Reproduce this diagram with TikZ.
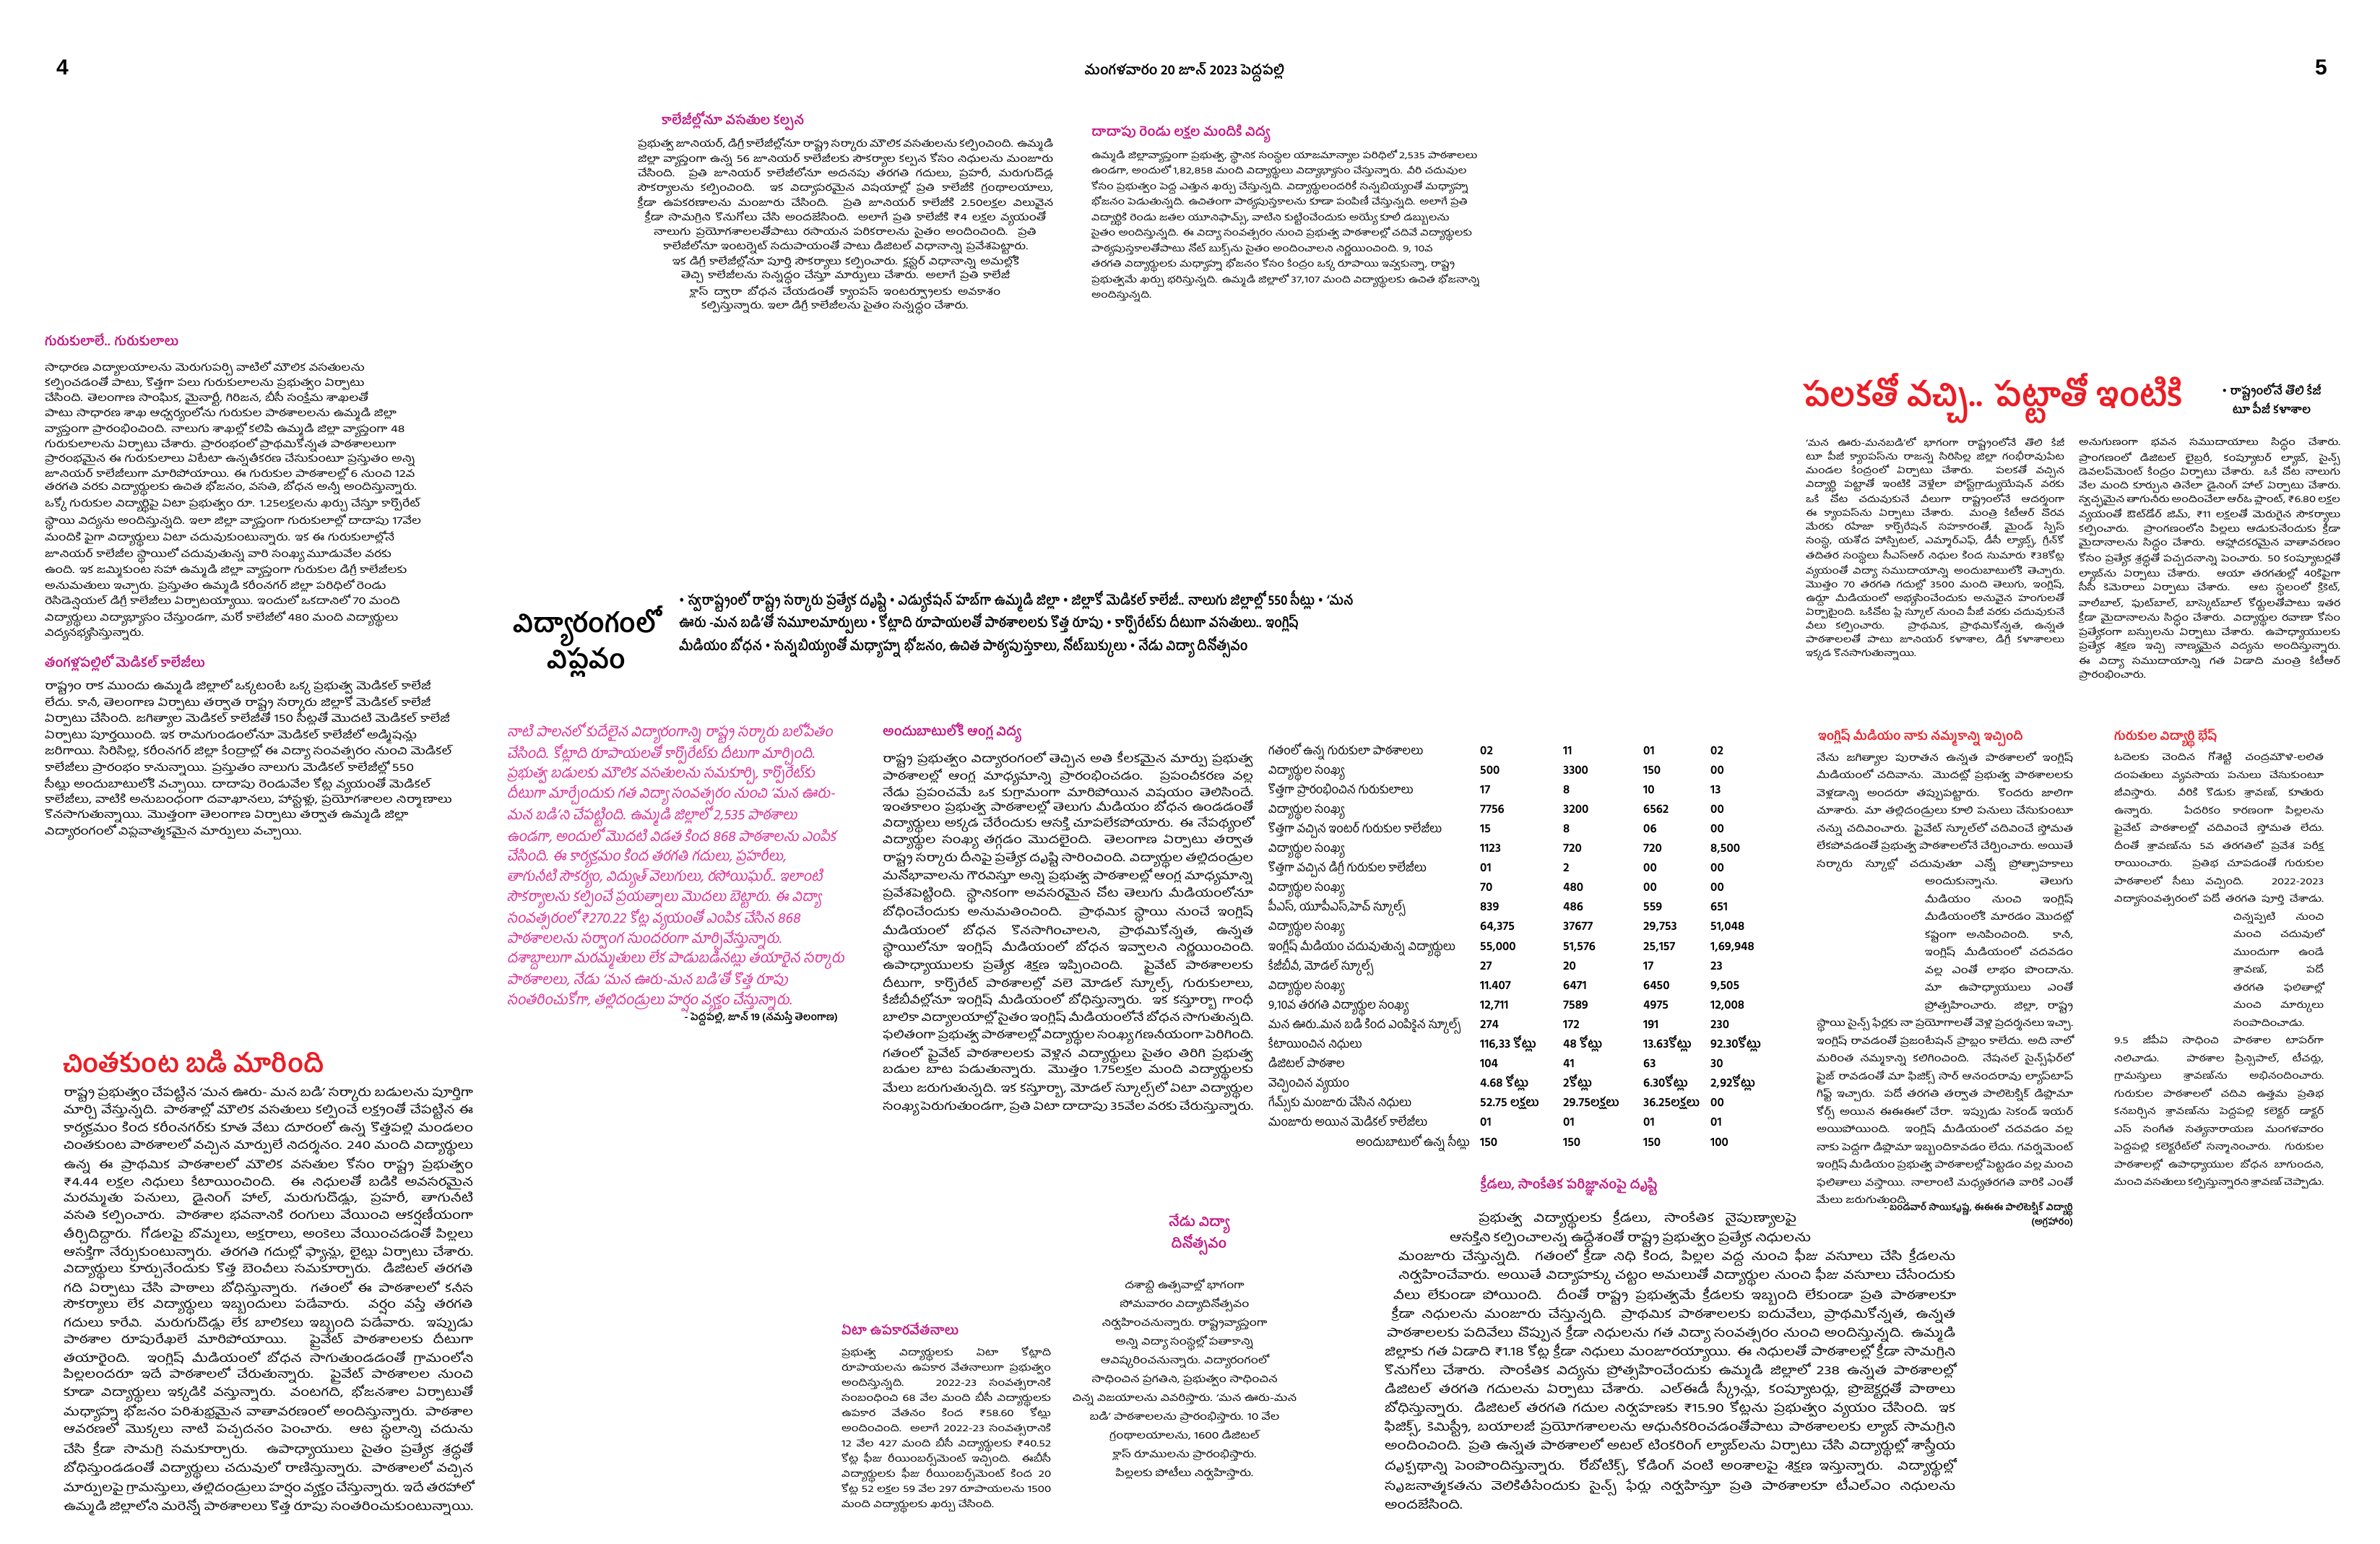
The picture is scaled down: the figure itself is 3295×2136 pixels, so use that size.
\documentclass[tikz,border=0pt]{standalone}
\usepackage{fontspec}
\usepackage{tikz}
\newfontfamily\tel[Script=Telugu,FakeStretch=1.3]{Hind Guntur}
\newfontfamily\telh[Script=Telugu]{Hind Guntur}
\newfontfamily\telc[Script=Telugu,FakeStretch=0.9]{Hind Guntur}
\newfontfamily\telsl[Script=Telugu,FakeSlant=0.18]{Hind Guntur}
\newfontfamily\numsans{Liberation Sans}
\newcommand{\fs}[2]{\fontsize{#1}{#2}\selectfont}
\newcommand{\shaped}[3]{\vbox{\hsize=#1\parshape #2\relax #3\par}}
\definecolor{headpink}{RGB}{196,20,132}
\definecolor{textpink}{RGB}{224,40,150}
\definecolor{headred}{RGB}{236,28,36}
\setlength{\parindent}{0pt}
\tolerance=9999 \emergencystretch=20pt \hbadness=10000

\tikzstyle{body text}=[anchor=north west, inner sep=0pt, align=justify, text=black]
\tikzstyle{shaped text}=[anchor=north west, inner sep=0pt, text=black]
\tikzstyle{sub head}=[anchor=base west, inner sep=0pt, text=headpink, font={\telh\bfseries\fs{18}{21}}]
\tikzstyle{red head}=[anchor=base west, inner sep=0pt, text=headred, font={\telh\bfseries\fs{17}{21}}]
\tikzstyle{big head}=[anchor=base west, inner sep=0pt, text=headred, font={\telh\bfseries\fs{46}{50}}]
\tikzstyle{mid head}=[anchor=base west, inner sep=0pt, text=headred, font={\telh\bfseries\fs{36}{40}}]
\tikzstyle{table label}=[anchor=base west, inner sep=0pt, font={\telh\fs{16.5}{18}}]
\tikzstyle{table num}=[anchor=base west, inner sep=0pt, font={\telh\bfseries\fs{17}{18}}]

\begin{document}
\begin{tikzpicture}[x=1pt,y=-1pt]
    \useasboundingbox (0,0) rectangle (3295,2136);
    \fill[white] (0,0) rectangle (3295,2136);

    % Folio
    \draw (78,103) node[anchor=base west, inner sep=0pt, font={\numsans\bfseries\fs{30}{32}}] (pgleft) {4};
    \draw (3222,103) node[anchor=base east, inner sep=0pt, font={\numsans\bfseries\fs{30}{32}}] (pgright) {5};
    \draw (1640,103) node[anchor=base, inner sep=0pt, font={\telh\bfseries\fs{19}{22}}] (dateline) {మంగళవారం 20 జూన్ 2023 పెద్దపల్లి};

    % Top stories
    \draw (916,172) node[sub head] (hcollege) {కాలేజీల్లోనూ వసతుల కల్పన};
    \draw (883,190) node[shaped text, font={\tel\fs{13.5}{19.5}}] (bcollege) {\shaped{583pt}{14 0pt 575pt 0pt 575pt 0pt 575pt 0pt 575pt 0pt 575pt 10pt 555pt 22pt 530pt 35pt 505pt 48pt 480pt 60pt 455pt 72pt 430pt 88pt 400pt 103pt 370pt 123pt 330pt}{ప్రభుత్వ జూనియర్, డిగ్రీ కాలేజీల్లోనూ రాష్ట్ర సర్కారు మౌలిక వసతులను కల్పించింది. ఉమ్మడి జిల్లా వ్యాప్తంగా ఉన్న 56 జూనియర్ కాలేజీలకు సౌకర్యాల కల్పన కోసం నిధులను మంజూరు చేసింది. ప్రతి జూనియర్ కాలేజీలోనూ అదనపు తరగతి గదులు, ప్రహరీ, మరుగుదొడ్ల సౌకర్యాలను కల్పించింది. ఇక విద్యాపరమైన విషయాల్లో ప్రతి కాలేజీకి గ్రంథాలయాలు, క్రీడా ఉపకరణాలను మంజూరు చేసింది. ప్రతి జూనియర్ కాలేజీకి 2.50లక్షల విలువైన క్రీడా సామగ్రిని కొనుగోలు చేసి అందజేసింది. అలాగే ప్రతి కాలేజీకి ₹4 లక్షల వ్యయంతో నాలుగు ప్రయోగశాలలతోపాటు రసాయన పరికరాలను సైతం అందించింది. ప్రతి కాలేజీలోనూ ఇంటర్నెట్ సదుపాయంతో పాటు డిజిటల్ విధానాన్ని ప్రవేశపెట్టారు. ఇక డిగ్రీ కాలేజీల్లోనూ పూర్తి సౌకర్యాలు కల్పించారు. క్లస్టర్ విధానాన్ని అమల్లోకి తెచ్చి కాలేజీలను సన్నద్ధం చేస్తూ మార్పులు చేశారు. అలాగే ప్రతి కాలేజీ క్లాస్ ద్వారా బోధన చేయడంతో క్యాంపస్ ఇంటర్వ్యూలకు అవకాశం కల్పిస్తున్నారు. ఇలా డిగ్రీ కాలేజీలను సైతం సన్నద్ధం చేశారు.}};

    \draw (1511,188) node[sub head] (hlakh) {దాదాపు రెండు లక్షల మందికి విద్య};
    \draw (1511,207) node[body text, align=left, text width=550pt, font={\tel\fs{12.5}{21.5}}] (blakh) {ఉమ్మడి జిల్లావ్యాప్తంగా ప్రభుత్వ, స్థానిక సంస్థల యాజమాన్యాల పరిధిలో 2,535 పాఠశాలలు ఉండగా, అందులో 1,82,858 మంది విద్యార్థులు విద్యాభ్యాసం చేస్తున్నారు. వీరి చదువుల కోసం ప్రభుత్వం పెద్ద ఎత్తున ఖర్చు చేస్తున్నది. విద్యార్థులందరికీ సన్నబియ్యంతో మధ్యాహ్న భోజనం పెడుతున్నది. ఉచితంగా పాఠ్యపుస్తకాలను కూడా పంపిణీ చేస్తున్నది. అలాగే ప్రతి విద్యార్థికి రెండు జతల యూనిఫామ్స్, వాటిని కుట్టించేందుకు అయ్యే కూలీ డబ్బులను సైతం అందిస్తున్నది. ఈ విద్యా సంవత్సరం నుంచి ప్రభుత్వ పాఠశాలల్లో చదివే విద్యార్థులకు పాఠ్యపుస్తకాలతోపాటు నోట్ బుక్స్‌ను సైతం అందించాలని నిర్ణయించింది. 9, 10వ తరగతి విద్యార్థులకు మధ్యాహ్న భోజనం కోసం కేంద్రం ఒక్క రూపాయి ఇవ్వకున్నా, రాష్ట్ర ప్రభుత్వమే ఖర్చు భరిస్తున్నది. ఉమ్మడి జిల్లాలో 37,107 మంది విద్యార్థులకు ఉచిత భోజనాన్ని అందిస్తున్నది.};

    % Left column
    \draw (62,478) node[sub head] (hgurukul) {గురుకులాలే.. గురుకులాలు};
    \draw (62,500) node[body text, align=left, text width=525pt, font={\tel\fs{13.9}{18.3}}] (bgurukul) {సాధారణ విద్యాలయాలను మెరుగుపర్చి వాటిలో మౌలిక వసతులను కల్పించడంతో పాటు, కొత్తగా పలు గురుకులాలను ప్రభుత్వం ఏర్పాటు చేసింది. తెలంగాణ సాంఘిక, మైనార్టీ, గిరిజన, బీసీ సంక్షేమ శాఖలతో పాటు సాధారణ శాఖ ఆధ్వర్యంలోను గురుకుల పాఠశాలలను ఉమ్మడి జిల్లా వ్యాప్తంగా ప్రారంభించింది. నాలుగు శాఖల్లో కలిపి ఉమ్మడి జిల్లా వ్యాప్తంగా 48 గురుకులాలను ఏర్పాటు చేశారు. ప్రారంభంలో ప్రాథమికోన్నత పాఠశాలలుగా ప్రారంభమైన ఈ గురుకులాలు ఏటేటా ఉన్నతీకరణ చేసుకుంటూ ప్రస్తుతం అన్ని జూనియర్ కాలేజీలుగా మారిపోయాయి. ఈ గురుకుల పాఠశాలల్లో 6 నుంచి 12వ తరగతి వరకు విద్యార్థులకు ఉచిత భోజనం, వసతి, బోధన అన్నీ అందిస్తున్నారు. ఒక్కో గురుకుల విద్యార్థిపై ఏటా ప్రభుత్వం రూ. 1.25లక్షలను ఖర్చు చేస్తూ కార్పొరేట్ స్థాయి విద్యను అందిస్తున్నది. ఇలా జిల్లా వ్యాప్తంగా గురుకులాల్లో దాదాపు 17వేల మందికి పైగా విద్యార్థులు ఏటా చదువుకుంటున్నారు. ఇక ఈ గురుకులాల్లోనే జూనియర్ కాలేజీల స్థాయిలో చదువుతున్న వారి సంఖ్య మూడువేల వరకు ఉంది. ఇక జమ్మికుంట సహా ఉమ్మడి జిల్లా వ్యాప్తంగా గురుకుల డిగ్రీ కాలేజీలకు అనుమతులు ఇచ్చారు. ప్రస్తుతం ఉమ్మడి కరీంనగర్ జిల్లా పరిధిలో రెండు రెసిడెన్షియల్ డిగ్రీ కాలేజీలు ఏర్పాటయ్యాయి. ఇందులో ఒకదానిలో 70 మంది విద్యార్థులు విద్యాభ్యాసం చేస్తుండగా, మరో కాలేజీలో 480 మంది విద్యార్థులు విద్యనభ్యసిస్తున్నారు.};

    \draw (62,923) node[sub head] (hmedical) {తంగళ్లపల్లిలో మెడికల్ కాలేజీలు};
    \draw (62,940) node[body text, align=left, text width=580pt, font={\tel\fs{14.8}{18.3}}] (bmedical) {రాష్ట్రం రాక ముందు ఉమ్మడి జిల్లాలో ఒక్కటంటే ఒక్క ప్రభుత్వ మెడికల్ కాలేజీ లేదు. కానీ, తెలంగాణ ఏర్పాటు తర్వాత రాష్ట్ర సర్కారు జిల్లాకో మెడికల్ కాలేజీ ఏర్పాటు చేసింది. జగిత్యాల మెడికల్ కాలేజీతో 150 సీట్లతో మొదటి మెడికల్ కాలేజీ ఏర్పాటు పూర్తయింది. ఇక రామగుండంలోనూ మెడికల్ కాలేజీలో అడ్మిషన్లు జరిగాయి. సిరిసిల్ల, కరీంనగర్ జిల్లా కేంద్రాల్లో ఈ విద్యా సంవత్సరం నుంచి మెడికల్ కాలేజీలు ప్రారంభం కానున్నాయి. ప్రస్తుతం నాలుగు మెడికల్ కాలేజీల్లో 550 సీట్లు అందుబాటులోకి వచ్చాయి. దాదాపు రెండువేల కోట్ల వ్యయంతో మెడికల్ కాలేజీలు, వాటికి అనుబంధంగా దవాఖానలు, హాస్టళ్లు, ప్రయోగశాలల నిర్మాణాలు కొనసాగుతున్నాయి. మొత్తంగా తెలంగాణ ఏర్పాటు తర్వాత ఉమ్మడి జిల్లా విద్యారంగంలో విప్లవాత్మకమైన మార్పులు వచ్చాయి.};

    % Main headline
    \draw (812,925) node[anchor=base, inner sep=0pt, align=center, font={\telh\bfseries\fs{37}{48}}] (mainhead) {విద్యారంగంలో\\విప్లవం};
    \draw (940,900) node[anchor=base west, inner sep=0pt, align=left, font={\telc\bfseries\fs{19.3}{31.5}}] (bullets) {• స్వరాష్ట్రంలో రాష్ట్ర సర్కారు ప్రత్యేక దృష్టి • ఎడ్యుకేషన్ హబ్‌గా ఉమ్మడి జిల్లా • జిల్లాకో మెడికల్ కాలేజీ.. నాలుగు జిల్లాల్లో 550 సీట్లు • ‘మన\\ఊరు -మన బడి’తో సమూలమార్పులు • కోట్లాది రూపాయలతో పాఠశాలలకు కొత్త రూపు • కార్పొరేట్‌కు దీటుగా వసతులు.. ఇంగ్లిష్\\మీడియం బోధన • సన్నబియ్యంతో మధ్యాహ్న భోజనం, ఉచిత పాఠ్యపుస్తకాలు, నోట్‌బుక్కులు • నేడు విద్యా దినోత్సవం};

    % Intro in pink
    \draw (702,1000) node[body text, align=left, text=textpink, font={\telsl\fs{19.6}{27.8}}] (intro) {నాటి పాలనలో కుదేలైన విద్యారంగాన్ని రాష్ట్ర సర్కారు బలోపేతం\\చేసింది. కోట్లాది రూపాయలతో కార్పొరేట్‌కు దీటుగా మార్చింది.\\ప్రభుత్వ బడులకు మౌలిక వసతులను సమకూర్చి, కార్పొరేట్‌కు\\దీటుగా మార్చేందుకు గత విద్యా సంవత్సరం నుంచి ‘మన ఊరు-\\మన బడి’ని చేపట్టింది. ఉమ్మడి జిల్లాలో 2,535 పాఠశాలు\\ఉండగా, అందులో మొదటి విడత కింద 868 పాఠశాలను ఎంపిక\\చేసింది. ఈ కార్యక్రమం కింద తరగతి గదులు, ప్రహరీలు,\\తాగునీటి సౌకర్యం, విద్యుత్ వెలుగులు, రసోయిఘర్.. ఇలాంటి\\సౌకర్యాలను కల్పించే ప్రయత్నాలు మొదలు బెట్టారు. ఈ విద్యా\\సంవత్సరంలో ₹270.22 కోట్ల వ్యయంతో ఎంపిక చేసిన 868\\పాఠశాలలను సర్వాంగ సుందరంగా మార్చివేస్తున్నారు.\\దశాబ్దాలుగా మరమ్మతులు లేక పాడుబడినట్లు తయారైన సర్కారు\\పాఠశాలలు, నేడు ‘మన ఊరు-మన బడి’తో కొత్త రూపు\\సంతరించుకోగా, తల్లిదండ్రులు హర్షం వ్యక్తం చేస్తున్నారు.};
    \draw (1160,1412) node[anchor=base east, inner sep=0pt, font={\telh\bfseries\fs{14}{16}}] (byline) {- పెద్దపల్లి, జూన్ 19 (నమస్తే తెలంగాణ)};

    % English medium
    \draw (1222,1018) node[sub head] (henglish) {అందుబాటులోకి ఆంగ్ల విద్య};
    \draw (1222,1040) node[body text, text width=513pt, font={\tel\fs{15.5}{20}}] (benglish) {రాష్ట్ర ప్రభుత్వం విద్యారంగంలో తెచ్చిన అతి కీలకమైన మార్పు ప్రభుత్వ పాఠశాలల్లో ఆంగ్ల మాధ్యమాన్ని ప్రారంభించడం. ప్రపంచీకరణ వల్ల నేడు ప్రపంచమే ఒక కుగ్రామంగా మారిపోయిన విషయం తెలిసిందే. ఇంతకాలం ప్రభుత్వ పాఠశాలల్లో తెలుగు మీడియం బోధన ఉండడంతో విద్యార్థులు అక్కడ చేరేందుకు ఆసక్తి చూపలేకపోయారు. ఈ నేపథ్యంలో విద్యార్థుల సంఖ్య తగ్గడం మొదలైంది. తెలంగాణ ఏర్పాటు తర్వాత రాష్ట్ర సర్కారు దీనిపై ప్రత్యేక దృష్టి సారించింది. విద్యార్థుల తల్లిదండ్రుల మనోభావాలను గౌరవిస్తూ అన్ని ప్రభుత్వ పాఠశాలల్లో ఆంగ్ల మాధ్యమాన్ని ప్రవేశపెట్టింది. స్థానికంగా అవసరమైన చోట తెలుగు మీడియంలోనూ బోధించేందుకు అనుమతించింది. ప్రాథమిక స్థాయి నుంచే ఇంగ్లిష్ మీడియంలో బోధన కొనసాగించాలని, ప్రాథమికోన్నత, ఉన్నత స్థాయిలోనూ ఇంగ్లిష్ మీడియంలో బోధన ఇవ్వాలని నిర్ణయించింది. ఉపాధ్యాయులకు ప్రత్యేక శిక్షణ ఇప్పించింది. ప్రైవేట్ పాఠశాలలకు దీటుగా, కార్పొరేట్ పాఠశాలల్లో వలె మోడల్ స్కూల్స్, గురుకులాలు, కేజీబీవీల్లోనూ ఇంగ్లిష్ మీడియంలో బోధిస్తున్నారు. ఇక కస్తూర్బా గాంధీ బాలికా విద్యాలయాల్లో సైతం ఇంగ్లిష్ మీడియంలోనే బోధన సాగుతున్నది. ఫలితంగా ప్రభుత్వ పాఠశాలల్లో విద్యార్థుల సంఖ్య గణనీయంగా పెరిగింది. గతంలో ప్రైవేట్ పాఠశాలలకు వెళ్లిన విద్యార్థులు సైతం తిరిగి ప్రభుత్వ బడుల బాట పడుతున్నారు. మొత్తం 1.75లక్షల మంది విద్యార్థులకు మేలు జరుగుతున్నది. ఇక కస్తూర్బా, మోడల్ స్కూల్స్‌లో ఏటా విద్యార్థుల సంఖ్య పెరుగుతుండగా, ప్రతి ఏటా దాదాపు 35వేల వరకు చేరుస్తున్నారు.};

    % Figures
    \foreach \i/\lab/\a/\b/\c/\d in {1/{గతంలో ఉన్న గురుకులా పాఠశాలలు}/02/11/01/02,
      2/{విద్యార్థుల సంఖ్య}/500/3300/150/00,
      3/{కొత్తగా ప్రారంభించిన గురుకులాలు}/17/8/10/13,
      4/{విద్యార్థుల సంఖ్య}/7756/3200/6562/00,
      5/{కొత్తగా వచ్చిన ఇంటర్ గురుకుల కాలేజీలు}/15/8/06/00,
      6/{విద్యార్థుల సంఖ్య}/1123/720/720/{8,500},
      7/{కొత్తగా వచ్చిన డిగ్రీ గురుకుల కాలేజీలు}/01/2/00/00,
      8/{విద్యార్థుల సంఖ్య}/70/480/00/00,
      9/{పీఎస్, యూపీఎస్,హెచ్ స్కూల్స్}/839/486/559/651,
      10/{విద్యార్థుల సంఖ్య}/{64,375}/37677/{29,753}/{51,048},
      11/{ఇంగ్లీష్ మీడియం చదువుతున్న విద్యార్థులు}/{55,000}/{51,576}/{25,157}/{1,69,948},
      12/{కేజీబీవీ, మోడల్ స్కూల్స్}/27/20/17/23,
      13/{విద్యార్థుల సంఖ్య}/11.407/6471/6450/{9,505},
      14/{9,10వ తరగతి విద్యార్థుల సంఖ్య}/{12,711}/7589/4975/{12,008},
      15/{మన ఊరు..మన బడి కింద ఎంపికైన స్కూల్స్}/274/172/191/230,
      16/{కేటాయించిన నిధులు}/{116,33 కోట్లు}/{48 కోట్లు}/{13.63కోట్లు}/{92.30కోట్లు},
      17/{డిజిటల్ పాఠశాల}/104/41/63/30,
      18/{వెచ్చించిన వ్యయం}/{4.68 కోట్లు}/{2కోట్లు}/{6.30కోట్లు}/{2,92కోట్లు},
      19/{గేమ్స్‌కు మంజూరు చేసిన నిధులు}/{52.75 లక్షలు}/{29.75లక్షలు}/{36.25లక్షలు}/00,
      20/{మంజూరు అయిన మెడికల్ కాలేజీలు}/01/01/01/01}
    {
      \draw (1756,{1044+27.1*(\i-1)}) node[table label] (lab\i) {\lab};
      \draw (2049,{1044+27.1*(\i-1)}) node[table num] (ka\i) {\a};
      \draw (2164,{1044+27.1*(\i-1)}) node[table num] (kb\i) {\b};
      \draw (2275,{1044+27.1*(\i-1)}) node[table num] (kc\i) {\c};
      \draw (2368,{1044+27.1*(\i-1)}) node[table num] (kd\i) {\d};
    }
    \draw (2035,1586) node[table label, anchor=base east] (lab21) {అందుబాటులో ఉన్న సీట్లు};
    \draw (2049,1586) node[table num] (ka21) {150};
    \draw (2164,1586) node[table num] (kb21) {150};
    \draw (2275,1586) node[table num] (kc21) {150};
    \draw (2368,1586) node[table num] (kd21) {100};

    % Chintakunta
    \draw (87,1484) node[mid head] (hchinta) {చింతకుంట బడి మారింది};
    \draw (88,1503) node[body text, text width=567pt, font={\tel\fs{16}{21.7}}] (bchinta) {రాష్ట్ర ప్రభుత్వం చేపట్టిన ‘మన ఊరు- మన బడి’ సర్కారు బడులను పూర్తిగా మార్చి వేస్తున్నది. పాఠశాల్లో మౌలిక వసతులు కల్పించే లక్ష్యంతో చేపట్టిన ఈ కార్యక్రమం కింద కరీంనగర్‌కు కూత వేటు దూరంలో ఉన్న కొత్తపల్లి మండలం చింతకుంట పాఠశాలలో వచ్చిన మార్పులే నిదర్శనం. 240 మంది విద్యార్థులు ఉన్న ఈ ప్రాథమిక పాఠశాలలో మౌలిక వసతుల కోసం రాష్ట్ర ప్రభుత్వం ₹4.44 లక్షల నిధులు కేటాయించింది. ఈ నిధులతో బడికి అవసరమైన మరమ్మతు పనులు, డైనింగ్ హాల్, మరుగుదొడ్లు, ప్రహరీ, తాగునీటి వసతి కల్పించారు. పాఠశాల భవనానికి రంగులు వేయించి ఆకర్షణీయంగా తీర్చిదిద్దారు. గోడలపై బొమ్మలు, అక్షరాలు, అంకెలు వేయించడంతో పిల్లలు ఆసక్తిగా నేర్చుకుంటున్నారు. తరగతి గదుల్లో ఫ్యాన్లు, లైట్లు ఏర్పాటు చేశారు. విద్యార్థులు కూర్చునేందుకు కొత్త బెంచీలు సమకూర్చారు. డిజిటల్ తరగతి గది ఏర్పాటు చేసి పాఠాలు బోధిస్తున్నారు. గతంలో ఈ పాఠశాలలో కనీస సౌకర్యాలు లేక విద్యార్థులు ఇబ్బందులు పడేవారు. వర్షం వస్తే తరగతి గదులు కారేవి. మరుగుదొడ్లు లేక బాలికలు ఇబ్బంది పడేవారు. ఇప్పుడు పాఠశాల రూపురేఖలే మారిపోయాయి. ప్రైవేట్ పాఠశాలలకు దీటుగా తయారైంది. ఇంగ్లిష్ మీడియంలో బోధన సాగుతుండడంతో గ్రామంలోని పిల్లలందరూ ఇదే పాఠశాలలో చేరుతున్నారు. ప్రైవేట్ పాఠశాలల నుంచి కూడా విద్యార్థులు ఇక్కడికి వస్తున్నారు. వంటగది, భోజనశాల ఏర్పాటుతో మధ్యాహ్న భోజనం పరిశుభ్రమైన వాతావరణంలో అందిస్తున్నారు. పాఠశాల ఆవరణలో మొక్కలు నాటి పచ్చదనం పెంచారు. ఆట స్థలాన్ని చదును చేసి క్రీడా సామగ్రి సమకూర్చారు. ఉపాధ్యాయులు సైతం ప్రత్యేక శ్రద్ధతో బోధిస్తుండడంతో విద్యార్థులు చదువులో రాణిస్తున్నారు. పాఠశాలలో వచ్చిన మార్పులపై గ్రామస్తులు, తల్లిదండ్రులు హర్షం వ్యక్తం చేస్తున్నారు. ఇదే తరహాలో ఉమ్మడి జిల్లాలోని మరెన్నో పాఠశాలలు కొత్త రూపు సంతరించుకుంటున్నాయి.};

    % Scholarships
    \draw (1165,1847) node[sub head] (hscholar) {ఏటా ఉపకారవేతనాలు};
    \draw (1165,1864) node[body text, text width=290pt, font={\tel\fs{13}{21}}] (bscholar) {ప్రభుత్వ విద్యార్థులకు ఏటా కోట్లాది రూపాయలను ఉపకార వేతనాలుగా ప్రభుత్వం అందిస్తున్నది. 2022-23 సంవత్సరానికి సంబంధించి 68 వేల మంది బీసీ విద్యార్థులకు ఉపకార వేతనం కింద ₹58.60 కోట్లు అందించింది. అలాగే 2022-23 సంవత్సరానికి 12 వేల 427 మంది బీసీ విద్యార్థులకు ₹40.52 కోట్ల ఫీజు రీయింబర్స్‌మెంట్ ఇచ్చింది. ఈబీసీ విద్యార్థులకు ఫీజు రీయింబర్స్‌మెంట్ కింద 20 కోట్ల 52 లక్షల 59 వేల 297 రూపాయలను 1500 మంది విద్యార్థులకు ఖర్చు చేసింది.};

    % Education day
    \draw (1660,1727) node[anchor=base, inner sep=0pt, align=center, text=headpink, font={\telh\bfseries\fs{19}{23}}] (hday) {నేడు విద్యా\\దినోత్సవం};
    \draw (1640,1770) node[anchor=north, inner sep=0pt, align=center, font={\tel\fs{13.5}{26}}] (bday) {దశాబ్ది ఉత్సవాల్లో భాగంగా\\సోమవారం విద్యాదినోత్సవం\\నిర్వహించనున్నారు. రాష్ట్రవ్యాప్తంగా\\అన్ని విద్యా సంస్థల్లో పతాకాన్ని\\ఆవిష్కరించనున్నారు. విద్యారంగంలో\\సాధించిన ప్రగతిని, ప్రభుత్వం సాధించిన\\చిన్న విజయాలను వివరిస్తారు. ‘మన ఊరు-మన\\బడి’ పాఠశాలలను ప్రారంభిస్తారు. 10 వేల\\గ్రంథాలయాలను, 1600 డిజిటల్\\క్లాస్ రూములను ప్రారంభిస్తారు.\\పిల్లలకు పోటీలు నిర్వహిస్తారు.};

    % Sports and technology
    \draw (2050,1645) node[sub head] (hsports) {క్రీడలు, సాంకేతిక పరిజ్ఞానంపై దృష్టి};
    \draw (1917,1675) node[shaped text, font={\tel\fs{16.5}{26}}] (bsports) {\shaped{790pt}{8 130pt 440pt 90pt 500pt 19pt 771pt 19pt 771pt 12pt 778pt 10pt 780pt 3pt 787pt 0pt 790pt}{ప్రభుత్వ విద్యార్థులకు క్రీడలు, సాంకేతిక నైపుణ్యాలపై ఆసక్తిని కల్పించాలన్న ఉద్దేశంతో రాష్ట్ర ప్రభుత్వం ప్రత్యేక నిధులను మంజూరు చేస్తున్నది. గతంలో క్రీడా నిధి కింద, పిల్లల వద్ద నుంచి ఫీజు వసూలు చేసి క్రీడలను నిర్వహించేవారు. అయితే విద్యాహక్కు చట్టం అమలుతో విద్యార్థుల నుంచి ఫీజు వసూలు చేసేందుకు వీలు లేకుండా పోయింది. దీంతో రాష్ట్ర ప్రభుత్వమే క్రీడలకు ఇబ్బంది లేకుండా ప్రతి పాఠశాలకూ క్రీడా నిధులను మంజూరు చేస్తున్నది. ప్రాథమిక పాఠశాలలకు ఐదువేలు, ప్రాథమికోన్నత, ఉన్నత పాఠశాలలకు పదివేలు చొప్పున క్రీడా నిధులను గత విద్యా సంవత్సరం నుంచి అందిస్తున్నది. ఉమ్మడి జిల్లాకు గత ఏడాది ₹1.18 కోట్ల క్రీడా నిధులు మంజూరయ్యాయి. ఈ నిధులతో పాఠశాలల్లో క్రీడా సామగ్రిని కొనుగోలు చేశారు. సాంకేతిక విద్యను ప్రోత్సహించేందుకు ఉమ్మడి జిల్లాలో 238 ఉన్నత పాఠశాలల్లో డిజిటల్ తరగతి గదులను ఏర్పాటు చేశారు. ఎల్ఈడీ స్క్రీన్లు, కంప్యూటర్లు, ప్రొజెక్టర్లతో పాఠాలు బోధిస్తున్నారు. డిజిటల్ తరగతి గదుల నిర్వహణకు ₹15.90 కోట్లను ప్రభుత్వం వ్యయం చేసింది. ఇక ఫిజిక్స్, కెమిస్ట్రీ, బయాలజీ ప్రయోగశాలలను ఆధునీకరించడంతోపాటు పాఠశాలలకు ల్యాబ్ సామగ్రిని అందించింది. ప్రతి ఉన్నత పాఠశాలలో అటల్ టింకరింగ్ ల్యాబ్‌లను ఏర్పాటు చేసి విద్యార్థుల్లో శాస్త్రీయ దృక్పథాన్ని పెంపొందిస్తున్నారు. రోబోటిక్స్, కోడింగ్ వంటి అంశాలపై శిక్షణ ఇస్తున్నారు. విద్యార్థుల్లో సృజనాత్మకతను వెలికితీసేందుకు సైన్స్ ఫేర్లు నిర్వహిస్తూ ప్రతి పాఠశాలకూ టీఎల్ఎం నిధులను అందజేసింది.}};

    % KG to PG campus
    \draw (2496,562) node[big head] (hcampus) {పలకతో వచ్చి.. పట్టాతో ఇంటికి};
    \draw (3145,530) node[anchor=north, inner sep=0pt, align=center, font={\telh\bfseries\fs{16}{26}}] (campustag) {• రాష్ట్రంలోనే తొలి కేజీ\\టూ పీజీ కళాశాల};
    \draw (2500,605) node[body text, text width=358pt, font={\tel\fs{12.5}{19}}] (bcampusa) {‘మన ఊరు-మనబడి’లో భాగంగా రాష్ట్రంలోనే తొలి కేజీ టూ పీజీ క్యాంపస్‌ను రాజన్న సిరిసిల్ల జిల్లా గంభీరావుపేట మండల కేంద్రంలో ఏర్పాటు చేశారు. పలకతో వచ్చిన విద్యార్థి పట్టాతో ఇంటికి వెళ్లేలా పోస్ట్‌గ్రాడ్యుయేషన్ వరకు ఒకే చోట చదువుకునే వీలుగా రాష్ట్రంలోనే ఆదర్శంగా ఈ క్యాంపస్‌ను ఏర్పాటు చేశారు. మంత్రి కేటీఆర్ చొరవ మేరకు రహేజా కార్పొరేషన్ సహకారంతో, మైండ్ స్పేస్ సంస్థ, యశోద హాస్పిటల్, ఎమ్మార్ఎఫ్, డీసీ ల్యాబ్స్, గ్రీన్‌కో తదితర సంస్థలు సీఎస్ఆర్ నిధుల కింద సుమారు ₹38కోట్ల వ్యయంతో విద్యా సముదాయాన్ని అందుబాటులోకి తెచ్చారు. మొత్తం 70 తరగతి గదుల్లో 3500 మంది తెలుగు, ఇంగ్లిష్, ఉర్దూ మీడియంలో అభ్యసించేందుకు అనువైన హంగులతో ఏర్పాటైంది. ఒకేచోట ప్లే స్కూల్ నుంచి పీజీ వరకు చదువుకునే వీలు కల్పించారు. ప్రాథమిక, ప్రాథమికోన్నత, ఉన్నత పాఠశాలలతో పాటు జూనియర్ కళాశాల, డిగ్రీ కళాశాలలు ఇక్కడ కొనసాగుతున్నాయి.};
    \draw (2878,605) node[body text, text width=362pt, font={\tel\fs{12.8}{19}}] (bcampusb) {అనుగుణంగా భవన సముదాయాలు సిద్ధం చేశారు. ప్రాంగణంలో డిజిటల్ లైబ్రరీ, కంప్యూటర్ ల్యాబ్, సైన్స్ డెవలప్‌మెంట్ కేంద్రం ఏర్పాటు చేశారు. ఒకే చోట నాలుగు వేల మంది కూర్చుని తినేలా డైనింగ్ హాల్ ఏర్పాటు చేశారు. స్వచ్ఛమైన తాగునీరు అందించేలా ఆర్‌ఓ ప్లాంట్, ₹6.80 లక్షల వ్యయంతో ఔట్‌డోర్ జిమ్, ₹11 లక్షలతో మెరుగైన సౌకర్యాలు కల్పించారు. ప్రాంగణంలోని పిల్లలు ఆడుకునేందుకు క్రీడా మైదానాలను సిద్ధం చేశారు. ఆహ్లాదకరమైన వాతావరణం కోసం ప్రత్యేక శ్రద్ధతో పచ్చదనాన్ని పెంచారు. 50 కంప్యూటర్లతో ల్యాబ్‌ను ఏర్పాటు చేశారు. ఆయా తరగతుల్లో 40కిపైగా సీసీ కెమెరాలు ఏర్పాటు చేశారు. ఆట స్థలంలో క్రికెట్, వాలీబాల్, ఫుట్‌బాల్, బాస్కెట్‌బాల్ కోర్టులతోపాటు ఇతర క్రీడా మైదానాలను సిద్ధం చేశారు. విద్యార్థుల రవాణా కోసం ప్రత్యేకంగా బస్సులను ఏర్పాటు చేశారు. ఉపాధ్యాయులకు ప్రత్యేక శిక్షణ ఇచ్చి నాణ్యమైన విద్యను అందిస్తున్నారు. ఈ విద్యా సముదాయాన్ని గత ఏడాది మంత్రి కేటీఆర్ ప్రారంభించారు.};

    % Student voices
    \draw (2517,1024) node[red head] (hvoice) {ఇంగ్లిష్ మీడియం నాకు నమ్మకాన్ని ఇచ్చింది};
    \draw (2515,1040) node[shaped text, font={\tel\fs{13.3}{24.5}}] (bvoice) {\shaped{355pt}{16 0pt 355pt 0pt 355pt 0pt 355pt 0pt 355pt 0pt 355pt 0pt 355pt 0pt 355pt 150pt 205pt 150pt 205pt 150pt 205pt 150pt 205pt 150pt 205pt 150pt 205pt 150pt 205pt 150pt 205pt 0pt 355pt}{నేను జగిత్యాల పురాతన ఉన్నత పాఠశాలలో ఇంగ్లిష్ మీడియంలో చదివాను. మొదట్లో ప్రభుత్వ పాఠశాలలకు వెళ్లడాన్ని అందరూ తప్పుపట్టారు. కొందరు జాలిగా చూశారు. మా తల్లిదండ్రులు కూలి పనులు చేసుకుంటూ నన్ను చదివించారు. ప్రైవేట్ స్కూల్‌లో చదివించే స్తోమత లేకపోవడంతో ప్రభుత్వ పాఠశాలలోనే చేర్పించారు. అయితే సర్కారు స్కూల్లో చదువుతూ ఎన్నో ప్రోత్సాహకాలు అందుకున్నాను. తెలుగు మీడియం నుంచి ఇంగ్లిష్ మీడియంలోకి మారడం మొదట్లో కష్టంగా అనిపించింది. కానీ, ఇంగ్లిష్ మీడియంలో చదవడం వల్ల ఎంతో లాభం పొందాను. మా ఉపాధ్యాయులు ఎంతో ప్రోత్సహించారు. జిల్లా, రాష్ట్ర స్థాయి సైన్స్ ఫేర్లకు నా ప్రయోగాలతో వెళ్లి ప్రదర్శనలు ఇచ్చా. ఇంగ్లిష్ రావడంతో ప్రజంటేషన్ ప్రాబ్లం కాలేదు. అది నాలో మరింత నమ్మకాన్ని కలిగించింది. నేషనల్ సైన్స్‌ఫేర్‌లో ప్రైజ్ రావడంతో మా ఫిజిక్స్ సార్ ఆనందరావు ల్యాప్‌టాప్ గిఫ్ట్ ఇచ్చారు. పదో తరగతి తర్వాత పాలిటెక్నిక్ డిప్లొమా కోర్స్ అయిన ఈఈఈలో చేరా. ఇప్పుడు సెకండ్ ఇయర్ అయిపోయింది. ఇంగ్లిష్ మీడియంలో చదవడం వల్ల నాకు పెద్దగా డిప్లొమా ఇబ్బందికావడం లేదు. గవర్నమెంట్ ఇంగ్లిష్ మీడియం ప్రభుత్వ పాఠశాలల్లో పెట్టడం వల్ల మంచి ఫలితాలు వస్తాయి. నాలాంటి మధ్యతరగతి వారికి ఎంతో మేలు జరుగుతుంది.}};
    \draw (2870,1695) node[anchor=base east, inner sep=0pt, align=right, font={\telh\bfseries\fs{13}{18}}] (signvoice) {- బండవార్ సాయికృష్ణ, ఈఈఈ పాలిటెక్నిక్ విద్యార్థి\\(అగ్రహారం)};

    \draw (2927,1024) node[red head] (hstar) {గురుకుల విద్యార్థి భేష్};
    \draw (2927,1040) node[shaped text, font={\tel\fs{12.7}{24.5}}] (bstar) {\shaped{290pt}{17 0pt 290pt 0pt 290pt 0pt 290pt 0pt 290pt 0pt 290pt 0pt 290pt 0pt 290pt 0pt 290pt 0pt 290pt 165pt 125pt 165pt 125pt 165pt 125pt 165pt 125pt 165pt 125pt 165pt 125pt 165pt 125pt 0pt 290pt}{ఓదెలకు చెందిన గోశెట్టి చంద్రమౌళి-లలిత దంపతులు వ్యవసాయ పనులు చేసుకుంటూ జీవిస్తారు. వీరికి కొడుకు శ్రావణ్, కూతురు ఉన్నారు. పేదరికం కారణంగా పిల్లలను ప్రైవేట్ పాఠశాలల్లో చదివించే స్తోమత లేదు. దీంతో శ్రావణ్‌ను 5వ తరగతిలో ప్రవేశ పరీక్ష రాయించారు. ప్రతిభ చూపడంతో గురుకుల పాఠశాలలో సీటు వచ్చింది. 2022-2023 విద్యాసంవత్సరంలో పదో తరగతి పూర్తి చేశాడు. చిన్నప్పటి నుంచి మంచి చదువులో ముందుగా ఉండే శ్రావణ్, పదో తరగతి ఫలితాల్లో మంచి మార్కులు సంపాదించాడు. 9.5 జీపీఏ సాధించి పాఠశాల టాపర్‌గా నిలిచాడు. పాఠశాల ప్రిన్సిపాల్, టీచర్లు, గ్రామస్తులు శ్రావణ్‌ను అభినందించారు. గురుకుల పాఠశాలలో చదివి ఉత్తమ ప్రతిభ కనబర్చిన శ్రావణ్‌ను పెద్దపల్లి కలెక్టర్ డాక్టర్ ఎస్ సంగీత సత్యనారాయణ మంగళవారం పెద్దపల్లి కలెక్టరేట్‌లో సన్మానించారు. గురుకుల పాఠశాలల్లో ఉపాధ్యాయుల బోధన బాగుందని, మంచి వసతులు కల్పిస్తున్నారని శ్రావణ్ చెప్పాడు.}};

\end{tikzpicture}
\end{document}
